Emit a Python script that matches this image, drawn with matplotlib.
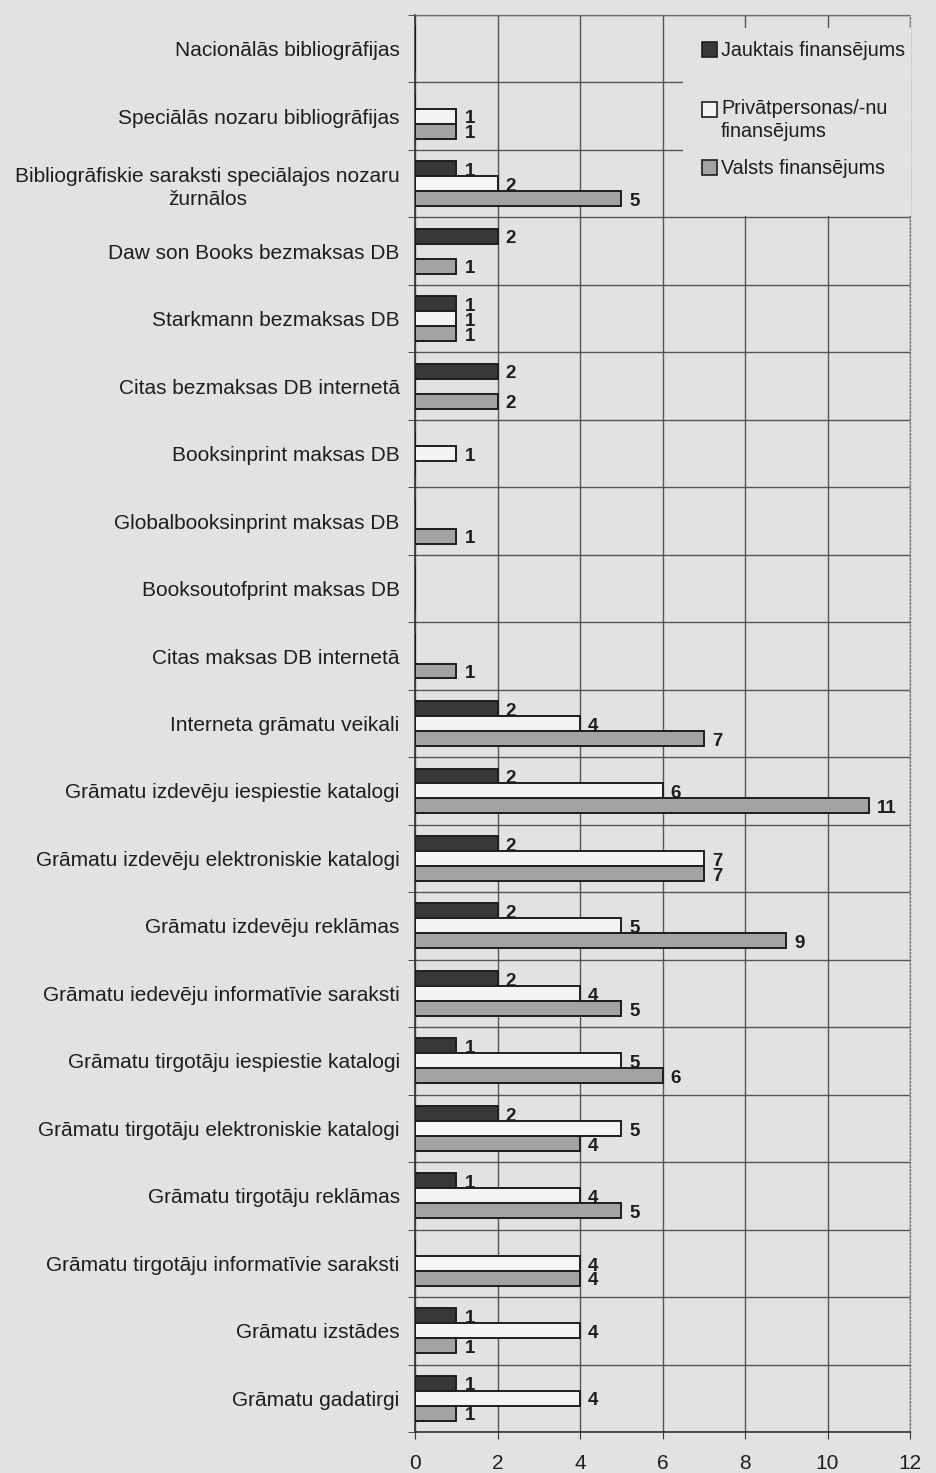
import matplotlib.pyplot as plt
from matplotlib.patches import Rectangle

plt.rcParams['font.family'] = ['Liberation Sans', 'DejaVu Sans']

# ========== Data ==========
categories = [
    'Nacionālās bibliogrāfijas',
    'Speciālās nozaru bibliogrāfijas',
    'Bibliogrāfiskie saraksti speciālajos nozaru\nžurnālos',
    'Daw son Books bezmaksas DB',
    'Starkmann bezmaksas DB',
    'Citas bezmaksas DB internetā',
    'Booksinprint maksas DB',
    'Globalbooksinprint maksas DB',
    'Booksoutofprint maksas DB',
    'Citas maksas DB internetā',
    'Interneta grāmatu veikali',
    'Grāmatu izdevēju iespiestie katalogi',
    'Grāmatu izdevēju elektroniskie katalogi',
    'Grāmatu izdevēju reklāmas',
    'Grāmatu iedevēju informatīvie saraksti',
    'Grāmatu tirgotāju iespiestie katalogi',
    'Grāmatu tirgotāju elektroniskie katalogi',
    'Grāmatu tirgotāju reklāmas',
    'Grāmatu tirgotāju informatīvie saraksti',
    'Grāmatu izstādes',
    'Grāmatu gadatirgi',
]
jauktais = [0, 0, 1, 2, 1, 2, 0, 0, 0, 0, 2, 2, 2, 2, 2, 1, 2, 1, 0, 1, 1]
privat = [0, 1, 2, 0, 1, 0, 1, 0, 0, 0, 4, 6, 7, 5, 4, 5, 5, 4, 4, 4, 4]
valsts = [0, 1, 5, 1, 1, 2, 0, 1, 0, 1, 7, 11, 7, 9, 5, 6, 4, 5, 4, 1, 1]

series_names = ['Jauktais finansējums', 'Privātpersonas/-nu\nfinansējums', 'Valsts finansējums']
series_colors = ['#383838', '#f4f4f4', '#a3a3a3']

bg = '#e2e2e2'
ink = '#1e1e1e'
W, H = 936, 1473

# ========== Plot ==========
fig = plt.figure(figsize=(W / 100, H / 100), dpi=100, facecolor=bg)
ax = fig.add_axes([415 / W, 1 - 1432 / H, 495 / W, 1417 / H], facecolor=bg)

n = len(categories)
bh = 0.222
offsets = [-bh, 0, bh]
for vals, off, col in zip([jauktais, privat, valsts], offsets, series_colors):
    ys = [i + off for i in range(n)]
    ax.barh(ys, vals, height=bh, color=col, edgecolor=ink, linewidth=1.4, zorder=3)
    for y, v in zip(ys, vals):
        if v > 0:
            ax.text(v + 0.2, y + 0.04, str(v), va='center', ha='left',
                    fontsize=13.5, fontweight='bold', color=ink, zorder=4)

ax.set_xlim(0, 12)
ax.set_ylim(n - 0.5, -0.5)
ax.set_xticks(range(0, 13, 2))
ax.tick_params(axis='x', labelsize=15, length=5, pad=11, color='#333', labelcolor=ink)
ax.set_yticks(range(n))
ax.set_yticklabels(categories, fontsize=15, color=ink)
for lbl in ax.get_yticklabels():
    lbl.set_multialignment('center')
    lbl.set_linespacing(1.3)
ax.tick_params(axis='y', length=0, pad=11)
ax.set_yticks([i + 0.5 for i in range(-1, n)], minor=True)
ax.tick_params(axis='y', which='minor', length=5, color='#333')

ax.grid(axis='x', color='#555', linewidth=1.0, zorder=1)
ax.grid(axis='y', which='minor', color='#555', linewidth=1.0, zorder=1)
ax.set_axisbelow(True)

for s in ['left', 'bottom']:
    ax.spines[s].set_color('#333')
    ax.spines[s].set_linewidth(1.2)
for s in ['top', 'right']:
    ax.spines[s].set_color('#777')
    ax.spines[s].set_linestyle(':')
    ax.spines[s].set_linewidth(1.0)


def fx(px):
    return px / W


def fy(py):
    return 1 - py / H


# legend area hides the grid behind it
fig.patches.append(Rectangle((fx(683), fy(216)), fx(911) - fx(683), fy(28) - fy(216),
                             transform=fig.transFigure, facecolor=bg, edgecolor='none', zorder=5))

leg_y = [50, 110, 168]
for name, col, y in zip(series_names, series_colors, leg_y):
    fig.patches.append(Rectangle((fx(702), fy(y + 7)), fx(15), 15 / H, transform=fig.transFigure,
                                 facecolor=col, edgecolor=ink, linewidth=1.2, zorder=6))
    if '\n' in name:
        fig.text(fx(721), fy(y - 11), name, va='top', ha='left', fontsize=14.2,
                 color=ink, linespacing=1.25, zorder=6)
    else:
        fig.text(fx(721), fy(y), name, va='center', ha='left', fontsize=14.2,
                 color=ink, zorder=6)

plt.savefig('out.png', dpi=100, facecolor=bg)
